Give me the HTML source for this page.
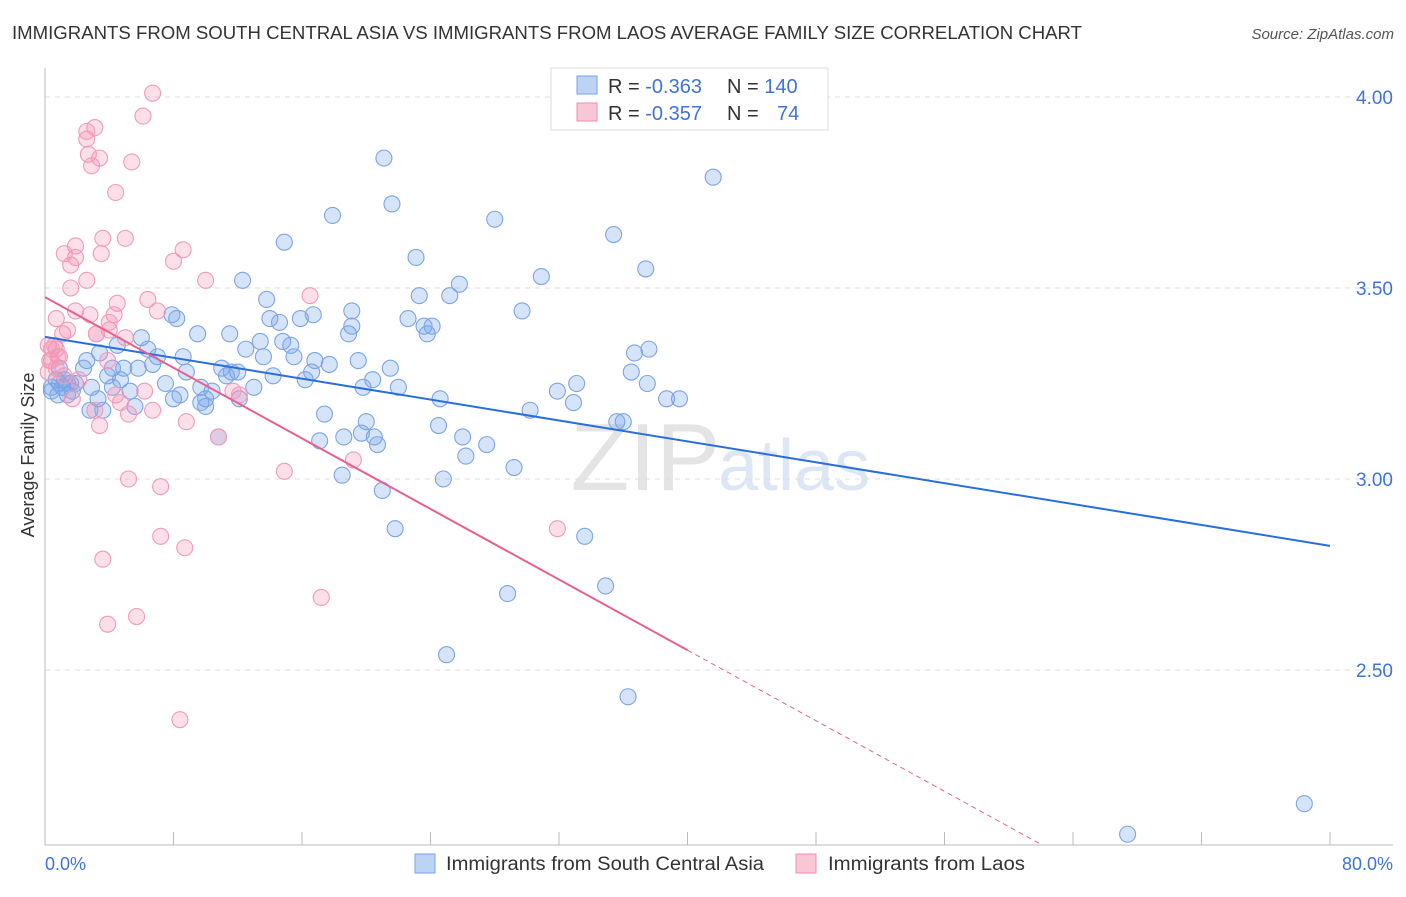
<!DOCTYPE html>
<html><head><meta charset="utf-8"><style>
body{margin:0;background:#fff;font-family:"Liberation Sans",sans-serif;}
svg text{font-family:"Liberation Sans",sans-serif;}
</style></head><body>
<svg id="chart" width="1406" height="892" xmlns="http://www.w3.org/2000/svg">
<text x="12" y="39" font-size="18" fill="#333" textLength="1070" lengthAdjust="spacingAndGlyphs">IMMIGRANTS FROM SOUTH CENTRAL ASIA VS IMMIGRANTS FROM LAOS AVERAGE FAMILY SIZE CORRELATION CHART</text>
<text x="1394" y="39" font-size="15" fill="#555" text-anchor="end" font-style="italic">Source: ZipAtlas.com</text>
<text x="720" y="490" font-size="96" fill="#e4e4e4" text-anchor="end" font-family="Liberation Serif">ZIP</text>
<text x="718" y="490" font-size="72" fill="#dce6f5">atlas</text>
<g id="grid"></g>
<g id="axes"></g>
<g id="pts"></g>
<g id="lines"></g>
<text x="34" y="455" font-size="18" fill="#333" text-anchor="middle" transform="rotate(-90 34 455)">Average Family Size</text>
<text x="45" y="870" font-size="18" fill="#3f73d6">0.0%</text>
<text x="1393" y="870" font-size="18" fill="#3f73d6" text-anchor="end">80.0%</text>
<g>
<rect x="551" y="68" width="277" height="62" fill="#fff" stroke="#ddd"/>
<rect x="577" y="76" width="20" height="18" fill="#bcd3f5" stroke="#7aa3e6"/>
<rect x="577" y="103" width="20" height="18" fill="#f9c6d6" stroke="#f08cb0"/>
<text x="608" y="93" font-size="20" fill="#333">R = <tspan fill="#3f73d6">-0.363</tspan><tspan x="727">N = </tspan><tspan fill="#3f73d6">140</tspan></text>
<text x="608" y="120" font-size="20" fill="#333">R = <tspan fill="#3f73d6">-0.357</tspan><tspan x="727">N = </tspan><tspan x="777" fill="#3f73d6">74</tspan></text>
</g>
<g>
<rect x="415" y="854" width="20" height="19" fill="#bcd3f5" stroke="#7aa3e6"/>
<text x="446" y="870" font-size="19" fill="#333" textLength="318" lengthAdjust="spacingAndGlyphs">Immigrants from South Central Asia</text>
<rect x="796" y="854" width="20" height="19" fill="#f9c6d6" stroke="#f08cb0"/>
<text x="828" y="870" font-size="19" fill="#333" textLength="197" lengthAdjust="spacingAndGlyphs">Immigrants from Laos</text>
</g>
</svg>
<script>
const yTicks=[4.0,3.5,3.0,2.5];
const yTickLabels=["4.00","3.50","3.00","2.50"];
const xTicks=[0,8,16,24,32,40,48,56,64,72,80];
const blueX=[21.1,21.6,17.9,28.0,41.6,14.9,35.4,23.1,37.4,30.9,12.3,25.8,23.3,25.2,13.8,19.1,29.7,7.9,8.2,15.9,16.7,14.0,14.6,22.6,23.6,24.1,19.1,9.5,11.5,6.0,18.9,23.8,14.8,15.3,13.4,12.5,4.5,6.4,3.4,37.6,36.7,15.5,8.6,7.0,16.8,17.7,13.6,19.5,21.5,2.6,4.2,4.9,0.9,2.4,5.8,8.8,11.0,12.0,36.5,14.2,16.2,16.6,20.4,22.0,19.8,7.5,9.7,1.1,1.6,1.9,2.9,0.4,0.7,1.4,4.7,33.1,31.9,37.5,3.3,5.3,8.4,10.0,13.0,12.1,10.4,38.7,39.5,32.9,24.6,8.0,10.0,9.7,30.2,2.8,3.6,17.4,20.0,24.5,35.6,36.0,26.0,27.5,19.7,20.5,20.7,17.1,18.6,26.2,29.2,24.8,18.5,21.0,21.8,33.6,28.8,34.9,25.0,36.3,78.4,67.4,10.8,0.4,0.8,0.9,1.4,1.7,1.2,3.9,5.6,4.2,6.7,11.6,11.3];
const blueY=[3.84,3.72,3.69,3.68,3.79,3.62,3.64,3.58,3.55,3.53,3.52,3.51,3.48,3.48,3.47,3.44,3.44,3.43,3.42,3.42,3.43,3.42,3.41,3.42,3.40,3.40,3.40,3.38,3.38,3.37,3.38,3.38,3.36,3.35,3.36,3.34,3.35,3.34,3.33,3.34,3.33,3.32,3.32,3.32,3.31,3.30,3.32,3.31,3.29,3.31,3.29,3.29,3.29,3.29,3.29,3.28,3.29,3.28,3.28,3.27,3.26,3.28,3.26,3.24,3.24,3.25,3.24,3.24,3.25,3.25,3.24,3.23,3.26,3.22,3.26,3.25,3.23,3.25,3.21,3.23,3.22,3.21,3.24,3.21,3.23,3.21,3.21,3.20,3.21,3.21,3.19,3.20,3.18,3.18,3.18,3.17,3.15,3.14,3.15,3.15,3.11,3.09,3.12,3.11,3.09,3.10,3.11,3.06,3.03,3.00,3.01,2.97,2.87,2.85,2.70,2.72,2.54,2.43,2.15,2.07,3.11,3.24,3.22,3.25,3.25,3.23,3.26,3.27,3.19,3.24,3.30,3.28,3.27];
const pinkX=[6.7,6.1,3.1,2.6,2.6,2.7,3.4,2.9,5.4,4.4,3.6,5.0,1.9,3.5,1.2,1.9,1.6,8.6,8.0,10.0,2.6,1.6,6.4,16.5,4.5,7.0,1.9,2.8,4.3,0.7,4.0,1.4,4.0,3.2,5.0,1.1,3.2,0.2,0.7,0.9,0.4,0.3,0.2,0.7,1.2,3.9,2.1,6.2,4.4,4.7,3.1,5.2,8.8,6.7,10.8,11.7,19.2,14.9,5.2,7.2,7.2,8.7,3.6,31.9,17.2,5.7,3.9,8.4,0.4,0.6,0.8,1.7,3.4,12.1];
const pinkY=[4.01,3.95,3.92,3.91,3.89,3.85,3.84,3.82,3.83,3.75,3.63,3.63,3.61,3.59,3.59,3.58,3.56,3.60,3.57,3.52,3.52,3.50,3.47,3.48,3.46,3.44,3.44,3.43,3.43,3.42,3.41,3.39,3.39,3.38,3.37,3.38,3.38,3.35,3.34,3.32,3.34,3.31,3.28,3.29,3.27,3.31,3.26,3.23,3.22,3.20,3.18,3.17,3.15,3.18,3.11,3.23,3.05,3.02,3.00,2.98,2.85,2.82,2.79,2.87,2.69,2.64,2.62,2.37,3.31,3.35,3.32,3.21,3.14,3.22];
const blueTrend=[3.372,2.825];
const pinkTrend=[3.476,-0.0231];
const X=v=>45+v*16.0625, Y=v=>97+(4-v)*382;
const NS="http://www.w3.org/2000/svg";
function mk(tag,attrs,parent){const e=document.createElementNS(NS,tag);for(const k in attrs)e.setAttribute(k,attrs[k]);parent.appendChild(e);return e;}
const grid=document.getElementById('grid'),axes=document.getElementById('axes'),pts=document.getElementById('pts'),lines=document.getElementById('lines');
yTicks.forEach((t,i)=>{
 const l=mk('line',{x1:45,x2:1393,y1:Y(t),y2:Y(t),stroke:'#ddd','stroke-dasharray':'5,5'},grid);
 
 
 const tx=mk('text',{x:1393,y:Y(t)+7,'font-size':19,fill:'#3f73d6','text-anchor':'end'},grid);
 tx.textContent=yTickLabels[i];
 
 
});
const ya=mk('line',{x1:45,x2:45,y1:68,y2:845,stroke:'#bbb'},axes);


const xa=mk('line',{x1:45,x2:1393,y1:845,y2:845,stroke:'#bbb'},axes);


xTicks.forEach(t=>{
 const l=mk('line',{x1:X(t),x2:X(t),y1:832,y2:845,stroke:'#bbb'},axes);
 
 
});
blueX.forEach((v,i)=>{
 const c=mk('circle',{cx:X(v),cy:Y(blueY[i]),r:8,fill:'rgba(120,165,235,0.3)',stroke:'#7ba5e6','stroke-width':1.1},pts);
 
 
});
pinkX.forEach((v,i)=>{
 const c=mk('circle',{cx:X(v),cy:Y(pinkY[i]),r:8,fill:'rgba(245,150,180,0.3)',stroke:'#f29abb','stroke-width':1.1},pts);
 
 
});
const bl=mk('line',{x1:X(0),y1:Y(blueTrend[0]),x2:X(80),y2:Y(blueTrend[1]),stroke:'#2a6fd8','stroke-width':2},lines);


const pf=x=>pinkTrend[0]+pinkTrend[1]*x;
const pl=mk('line',{x1:X(0),y1:Y(pf(0)),x2:X(40),y2:Y(pf(40)),stroke:'#e8608e','stroke-width':2},lines);


const pd=mk('line',{x1:X(40),y1:Y(pf(40)),x2:X(62),y2:Y(pf(62)),stroke:'#e8608e','stroke-width':1,'stroke-dasharray':'5,4'},lines);


</script>
</body></html>
